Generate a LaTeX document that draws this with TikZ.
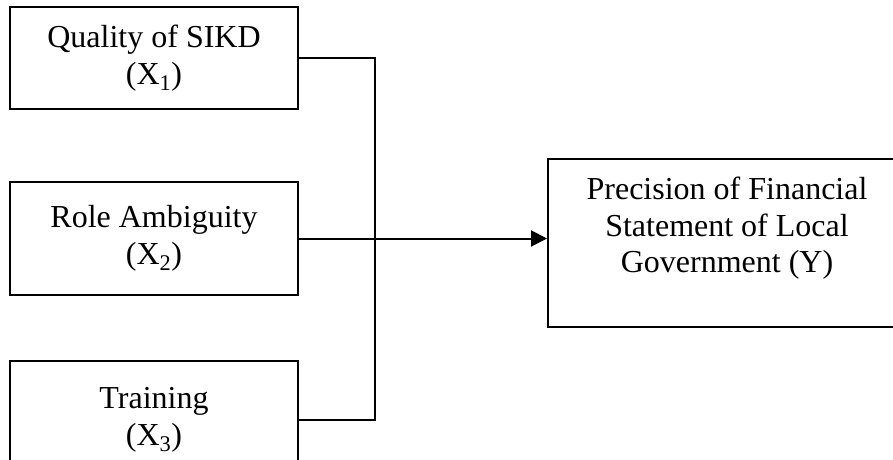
\documentclass[tikz,border=0pt]{standalone}
\usepackage{fontspec}
\setmainfont{Liberation Serif}
\usetikzlibrary{arrows.meta, positioning}

\begin{document}
\begin{tikzpicture}[
node distance = 68pt and 248pt,
   kotak/.style = {rectangle, draw, line width=2pt, inner sep=0pt,
                   minimum width=288pt, align=center,
                   font=\fontsize{32}{36.5}\selectfont},
   garis/.style = {black, line width=2pt},
     pil/.style = {garis, -{Triangle[length=16pt,width=16pt]}}
                    ]
\useasboundingbox (0,0) rectangle (893pt,-459pt);
\clip (0,0) rectangle (893pt,-459pt);
%nodes
\node[kotak,minimum height=102pt] (X1) at (154pt,-58pt) {Quality of SIKD\\(X\textsubscript{1})};
\node[kotak,minimum height=113pt] (X2) [below=71pt of X1] {Role Ambiguity\\(X\textsubscript{2})};
\node[kotak,minimum height=118pt] (X3) [below=64pt of X2] {Training\\(X\textsubscript{3})};

\node[kotak,minimum width=358pt,minimum height=168pt,yshift=-4.5pt] (Y) [right=of X2]
     {Precision of Financial\\Statement of Local\\Government (Y)\\ \mbox{}};

\coordinate[right=76pt of X1.east] (bus);

% edges
\draw[garis] (X1.east) -- (bus) |- (X3.east);
\draw[pil] (X2.east) -- (X2.east -| Y.west);
\end{tikzpicture}
\end{document}
